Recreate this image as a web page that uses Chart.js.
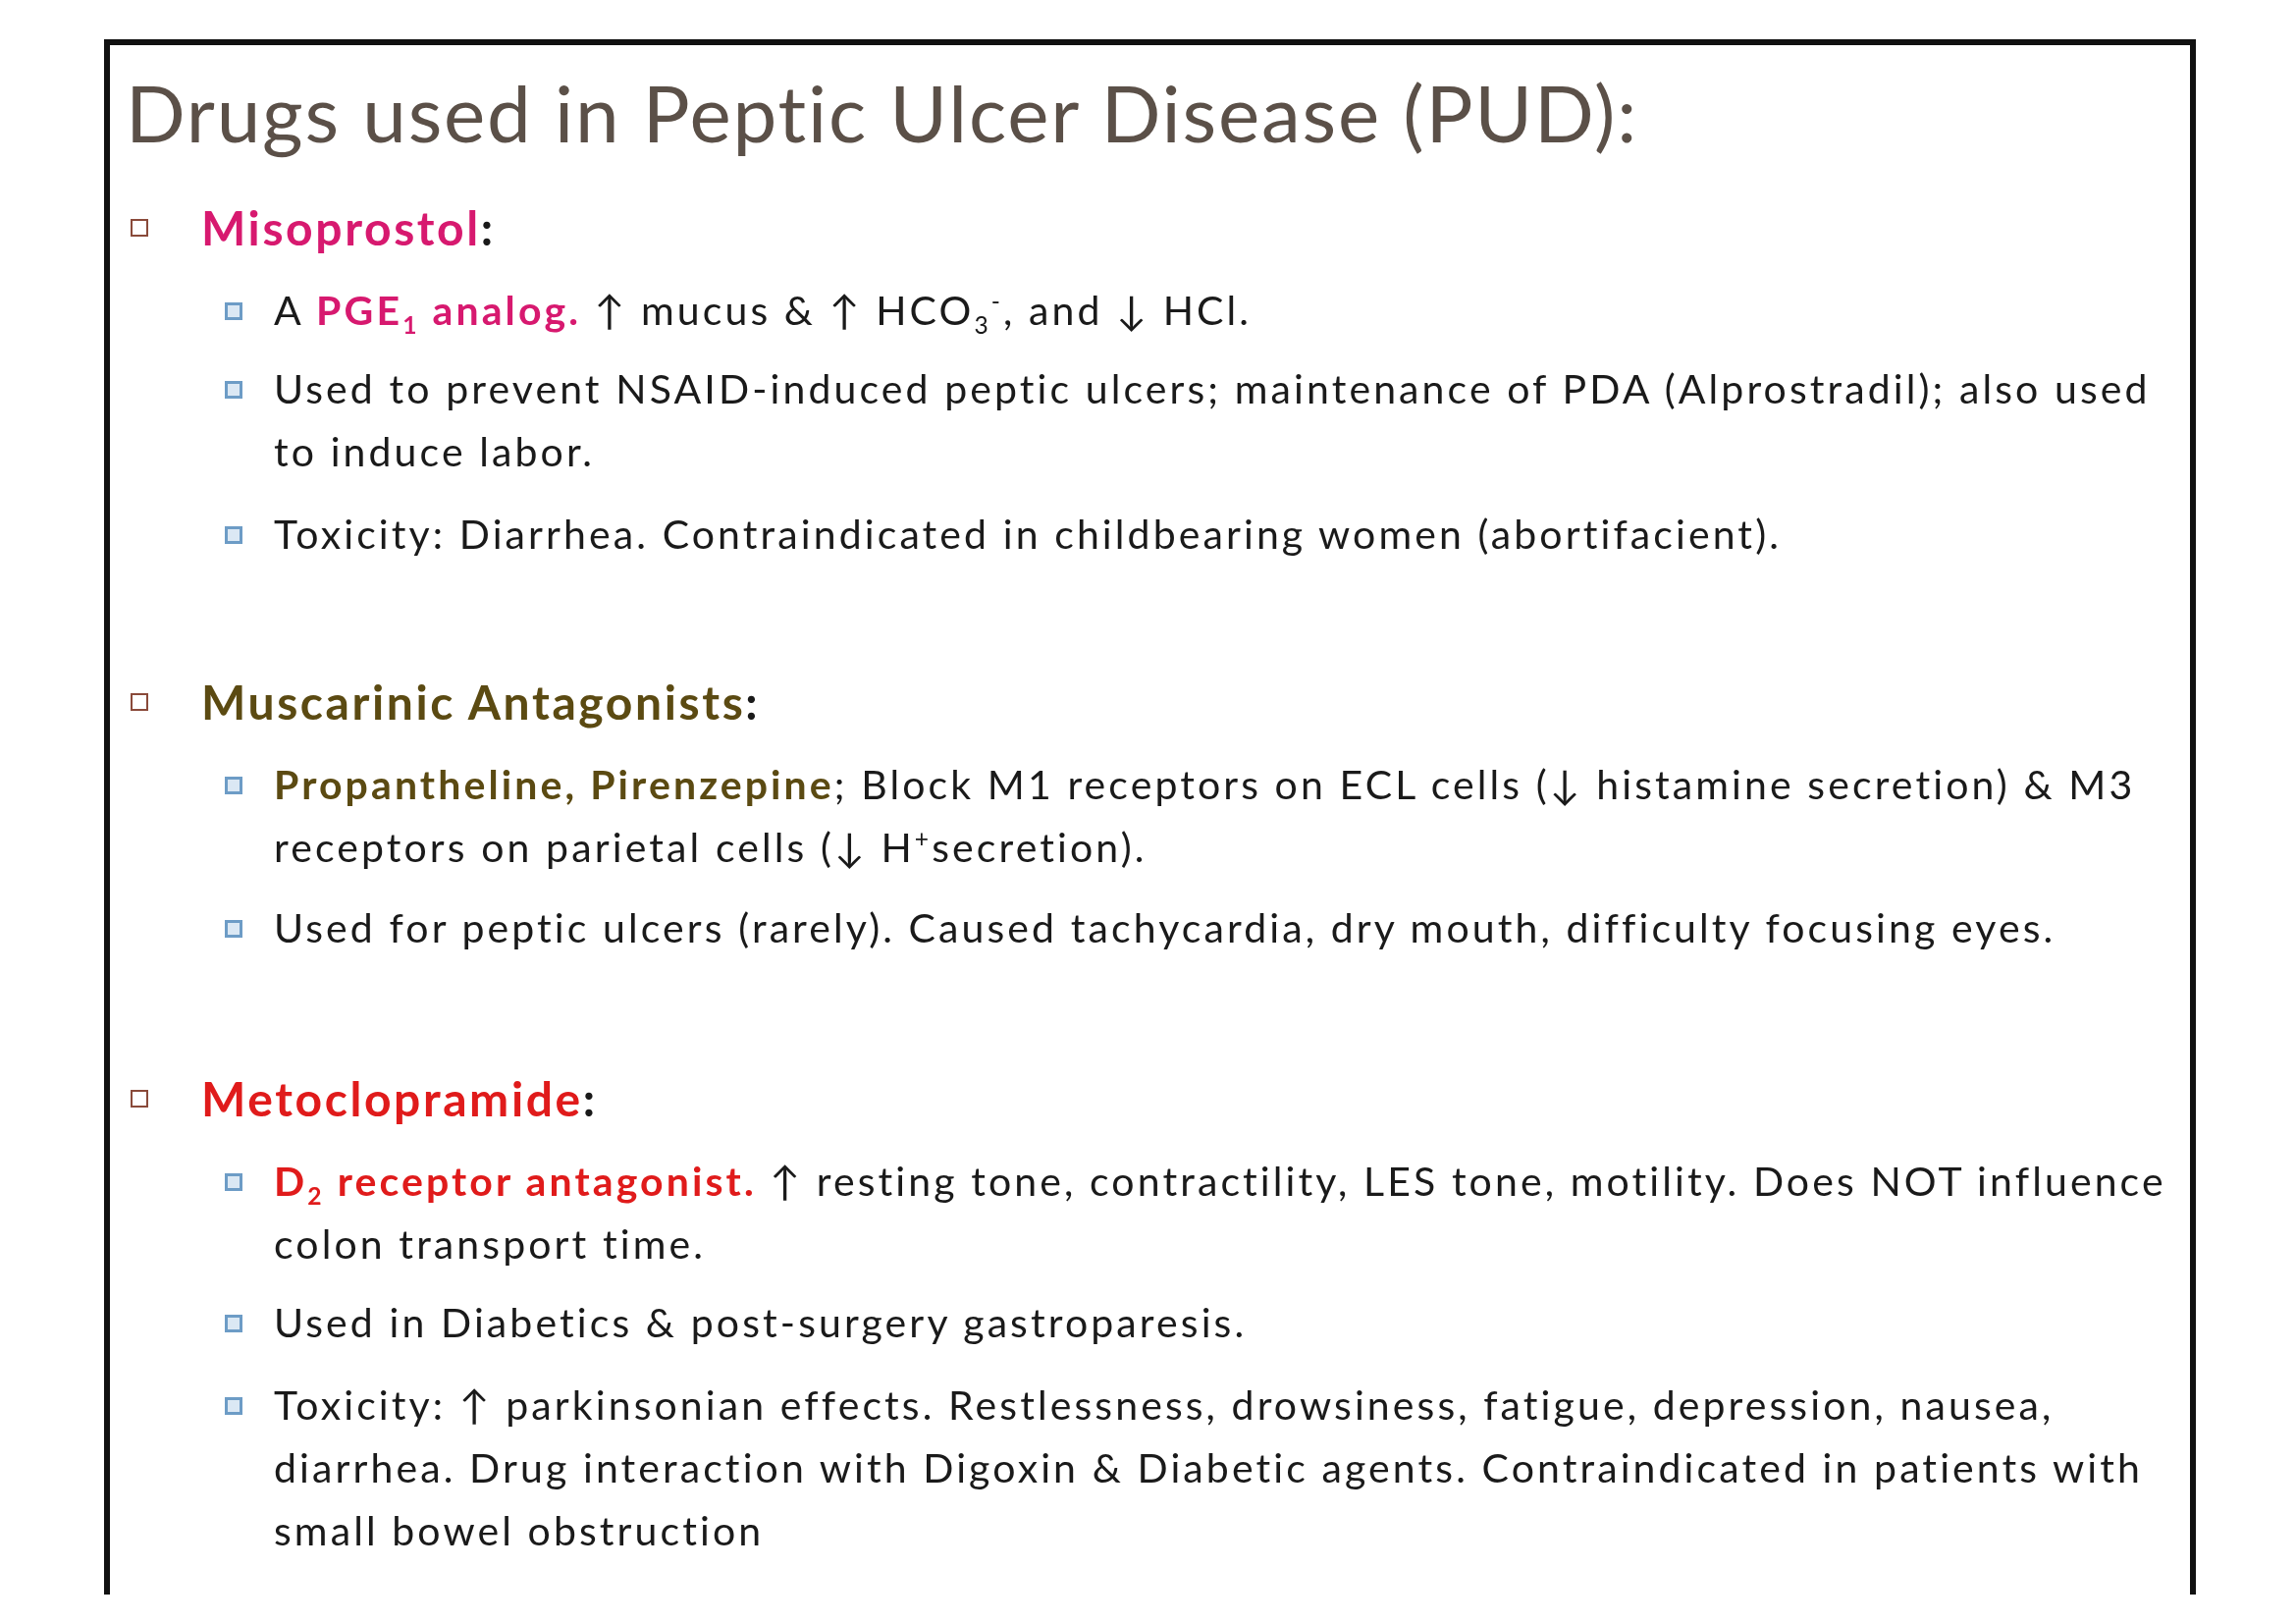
<!DOCTYPE html>
<html><head><meta charset="utf-8">
<script src="https://cdn.jsdelivr.net/npm/chart.js@4.4.0/dist/chart.umd.min.js"></script>
<style>
  body { margin:0; width:2339px; height:1653px; background:#fff; position:relative; overflow:hidden;
         font-family:"Lato","Open Sans",sans-serif; color:#1a1a1a; }
  #frame { position:absolute; left:106px; top:40px; width:2119px; height:1578px;
           border:6px solid #111; border-bottom:none; }
  #bg { position:absolute; left:0; top:0; width:2339px; height:1653px; }
  .title { position:absolute; left:128px; top:66px; font-size:80px; color:#5b5048; white-space:nowrap; letter-spacing:1.8px; }
  .l1 { position:absolute; left:205px; font-size:48px; font-weight:bold; white-space:nowrap; line-height:66px; letter-spacing:2.6px; }
  .l2 { position:absolute; left:279px; font-size:41px; white-space:nowrap; line-height:64px; letter-spacing:3.1px; }
  .l1::before, .l2::before { content:""; position:absolute; width:18px; height:18px; top:24px; box-sizing:border-box; }
  .l1::before { left:-72px; border:2px solid #8a4a3a; }
  .l2::before { left:-50px; border:3px solid #6d9cc6; background:#dbe8f4; }
  .pink { color:#d7196f; font-weight:bold; }
  .olive { color:#5b4a12; font-weight:bold; }
  .red { color:#e01b1b; font-weight:bold; }
  sub, sup { font-size:60%; line-height:0; }
</style></head>
<body>
<canvas id="bg" width="2339" height="1653"></canvas>
<div id="frame"></div>
<div class="title">Drugs used in Peptic Ulcer Disease (PUD):</div>
<div id="content"></div>
<script>
// slide content, one entry per bullet line group: [level, top, html]
const headings = [
  [1, 199, '<span class="pink">Misoprostol</span>:'],
  [1, 682, '<span class="olive">Muscarinic Antagonists</span>:'],
  [1, 1086, '<span class="red">Metoclopramide</span>:']
];
const items = [
  [2, 284, 'A <span class="pink">PGE<sub>1</sub> analog.</span> ↑ mucus &amp; ↑ HCO<sub>3</sub><sup>-</sup>, and ↓ HCl.'],
  [2, 364, 'Used to prevent NSAID-induced peptic ulcers; maintenance of PDA (Alprostradil); also used<br>to induce labor.'],
  [2, 512, 'Toxicity: Diarrhea. Contraindicated in childbearing women (abortifacient).'],
  [2, 767, '<span class="olive">Propantheline, Pirenzepine</span>; Block M1 receptors on ECL cells (↓ histamine secretion) &amp; M3<br>receptors on parietal cells (↓ H<sup>+</sup>secretion).'],
  [2, 913, 'Used for peptic ulcers (rarely). Caused tachycardia, dry mouth, difficulty focusing eyes.'],
  [2, 1171, '<span class="red">D<sub>2</sub> receptor antagonist.</span> ↑ resting tone, contractility, LES tone, motility. Does NOT influence<br>colon transport time.'],
  [2, 1315, 'Used in Diabetics &amp; post-surgery gastroparesis.'],
  [2, 1399, 'Toxicity: ↑ parkinsonian effects. Restlessness, drowsiness, fatigue, depression, nausea,<br>diarrhea. Drug interaction with Digoxin &amp; Diabetic agents. Contraindicated in patients with<br>small bowel obstruction']
];
const box = document.getElementById('content');
headings.concat(items).forEach(([lvl, top, html]) => {
  const d = document.createElement('div');
  d.className = 'l' + lvl;
  d.style.top = top + 'px';
  d.innerHTML = html;
  box.appendChild(d);
});
// blank Chart.js canvas as the slide background
new Chart(document.getElementById('bg'), {
  type: 'scatter',
  data: { datasets: [{ data: [] }] },
  options: { responsive:false, animation:false,
    plugins: { legend:{display:false}, tooltip:{enabled:false} },
    scales: { x:{display:false}, y:{display:false} } }
});
</script>
</body></html>
